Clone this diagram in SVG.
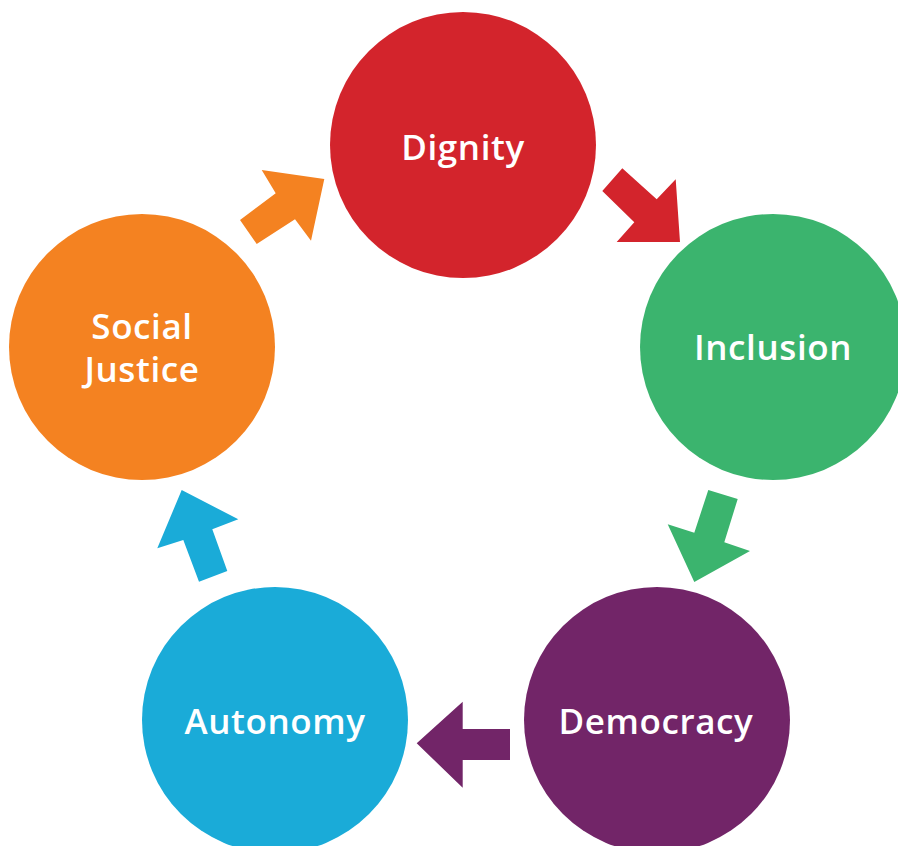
<svg xmlns="http://www.w3.org/2000/svg" width="898" height="846" viewBox="0 0 898 846">
<style>
.lbl{font-family:"Open Sans","Liberation Sans",sans-serif;font-size:35px;font-weight:600;letter-spacing:0.6px;fill:#ffffff;text-anchor:middle}
</style>
<rect width="898" height="846" fill="#ffffff"/>
<g id="connectors">
<polygon fill="#f48221" points="240,220 275.7,193.3 261.7,170 324.3,179 311,240.7 295,219.3 256.7,244"/>
<polygon fill="#d3242c" points="622.3,168.3 656.7,199.3 675.7,179.3 680,242 616.7,242 634.3,222.3 602.3,191"/>
<polygon fill="#3bb46e" points="708.3,490 737.7,499 724.3,542.3 750,551 694.3,582 667.7,524.3 694.3,532.7"/>
<polygon fill="#722568" points="416.7,743.3 462.7,701.7 462.7,729 510,729 510,760 462.7,760 462.7,787.7"/>
<polygon fill="#1aabd8" points="181.7,490 238.3,519.3 212.3,529.3 227.3,571 199,581.7 183.3,540 157.3,548.3"/>
</g>
<g id="dignity"><circle cx="463" cy="145" r="133" fill="#d3242c"/><text class="lbl" x="463" y="160">Dignity</text></g>
<g id="inclusion"><circle cx="773" cy="347" r="133" fill="#3bb46e"/><text class="lbl" x="773" y="360">Inclusion</text></g>
<g id="democracy"><circle cx="657" cy="720" r="133" fill="#722568"/><text class="lbl" x="656" y="734">Democracy</text></g>
<g id="autonomy"><circle cx="275" cy="720" r="133" fill="#1aabd8"/><text class="lbl" x="275" y="734">Autonomy</text></g>
<g id="social-justice"><circle cx="142" cy="347" r="133" fill="#f48221"/><text class="lbl" x="142" y="339"><tspan x="142" y="339">Social</tspan><tspan x="142" y="382">Justice</tspan></text></g>
</svg>
